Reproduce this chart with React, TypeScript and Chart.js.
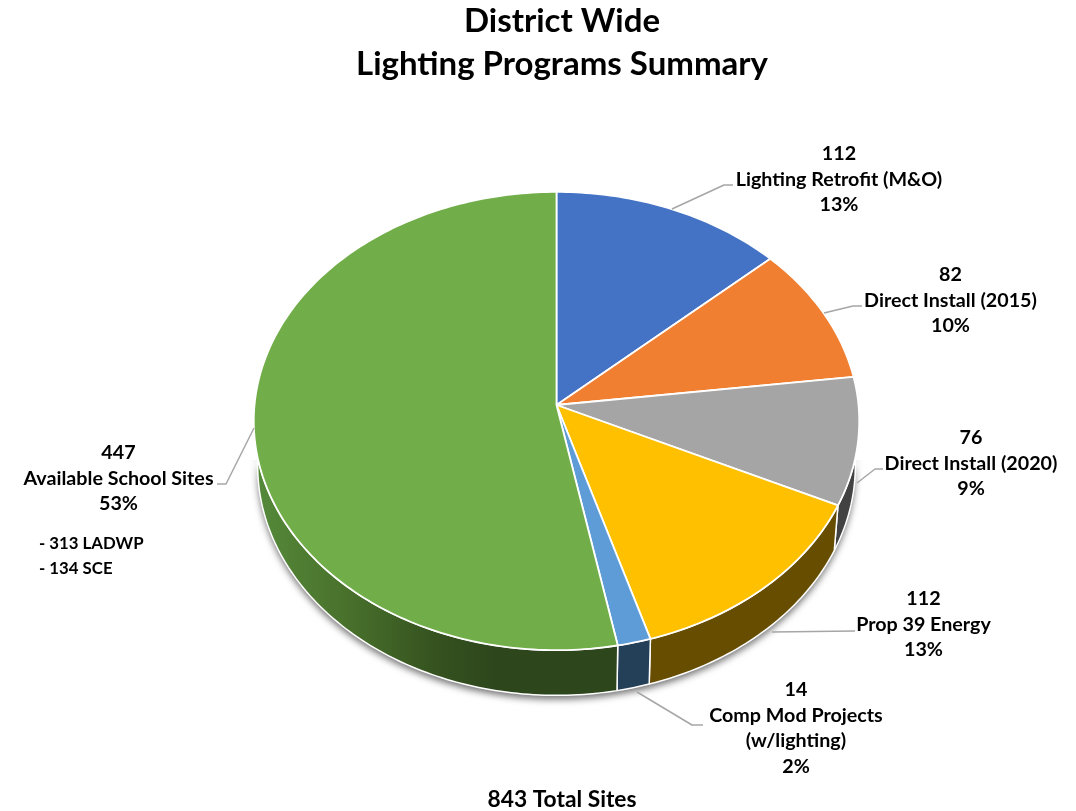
import React, { useEffect, useRef } from "react";
import { Chart, registerables } from "chart.js";

Chart.register(...registerables);

const titleLines = ["District Wide", "Lighting Programs Summary"];
const totalLabel = "843 Total Sites";
const categories = [
  "Lighting Retrofit (M&O)",
  "Direct Install (2015)",
  "Direct Install (2020)",
  "Prop 39 Energy",
  "Comp Mod Projects|(w/lighting)",
  "Available School Sites",
];
const siteCounts = [112, 82, 76, 112, 14, 447];
const percentLabels = ["13%", "10%", "9%", "13%", "2%", "53%"];
const availableBreakdown = ["- 313 LADWP", "- 134 SCE"];

const FONT = "Lato, 'Noto Sans', sans-serif";
const faceColors = ["#4472c4", "#f07f31", "#a5a5a5", "#ffc000", "#5e9cd8", "#71ae4a"];
const rimColors = ["#2a4578", "#8f4c1d", "#424242", "#664d00", "#243f58", ""];

function pieDrawer() {
  return {
    id: "perspectivePie",
    beforeDatasetDraw(chart: any) {
      const ctx: CanvasRenderingContext2D = chart.ctx;
      const arcs: any[] = chart.getDatasetMeta(0).data;
      const first = arcs[0];
      const cx = first.x - 5.5;
      const cy = first.y;
      const R = first.outerRadius;
      const B = R * 0.755;
      const p = 0.07;
      const scaleLow = 0.987;
      const D = 45;
      const top = (a: number) => {
        const u = Math.cos(a);
        const v = -Math.sin(a);
        const w = 1 + p * v;
        return [cx + (R * u) / w, cy - (B * v) / w];
      };
      const low = (a: number) => {
        const u = Math.cos(a);
        const v = -Math.sin(a);
        const w = 1 + p * v;
        return [cx + (R * scaleLow * u) / w, cy + D / w - (B * scaleLow * v) / w];
      };
      const deg = Math.PI / 180;
      const trace = (fn: (a: number) => number[], from: number, to: number, start: boolean) => {
        const n = Math.max(2, Math.ceil(Math.abs(to - from) / deg));
        for (let i = 0; i <= n; i++) {
          const q = fn(from + ((to - from) * i) / n);
          if (i === 0 && start) ctx.moveTo(q[0], q[1]);
          else ctx.lineTo(q[0], q[1]);
        }
      };
      const frontA = -5 * deg;
      const frontB = 185 * deg;

      // drop shadow below the rim, only where the rim is visible
      ctx.save();
      ctx.beginPath();
      ctx.rect(0, cy + 55, chart.width, chart.height);
      ctx.clip();
      ctx.shadowColor = "rgba(0,0,0,0.55)";
      ctx.shadowBlur = 7;
      ctx.shadowOffsetY = 4;
      ctx.fillStyle = "#ffffff";
      ctx.beginPath();
      trace(top, frontA, frontB, true);
      trace(low, frontB, frontA, false);
      ctx.closePath();
      ctx.fill();
      ctx.restore();

      // rim
      arcs.forEach((arc, i) => {
        const a0 = Math.max(arc.startAngle, frontA);
        const a1 = Math.min(arc.endAngle, frontB);
        if (a1 <= a0) return;
        let fill: any = rimColors[i];
        if (!fill) {
          const g = ctx.createLinearGradient(cx - R, 0, cx - 60, 0);
          g.addColorStop(0, "#558a3a");
          g.addColorStop(0.35, "#4a732d");
          g.addColorStop(0.75, "#35521f");
          g.addColorStop(1, "#2d461c");
          fill = g;
        }
        ctx.beginPath();
        trace(top, a0, a1, true);
        trace(low, a1, a0, false);
        ctx.closePath();
        ctx.fillStyle = fill;
        ctx.fill();
        ctx.strokeStyle = "#ffffff";
        ctx.lineWidth = 1.5;
        ctx.lineJoin = "round";
        ctx.stroke();
      });

      // top face
      arcs.forEach((arc, i) => {
        ctx.beginPath();
        ctx.moveTo(cx, cy);
        trace(top, arc.startAngle, arc.endAngle, false);
        ctx.closePath();
        ctx.fillStyle = faceColors[i];
        ctx.fill();
        ctx.strokeStyle = "#ffffff";
        ctx.lineWidth = 1.8;
        ctx.lineJoin = "round";
        ctx.stroke();
      });
      return false;
    },
    afterDraw(chart: any) {
      const ctx: CanvasRenderingContext2D = chart.ctx;
      const leaders = [
        [[672, 209], [724, 185], [733, 185]],
        [[824, 313], [853, 306], [862, 306]],
        [[857, 483], [875, 469], [883, 469]],
        [[772, 632], [855, 631]],
        [[637, 692], [692, 725], [703, 725]],
        [[254, 428], [226, 484], [217, 484]],
      ];
      const anchors = [
        [839, 153.5],
        [950.5, 274.5],
        [971, 437.5],
        [923.5, 598.5],
        [796, 689.5],
        [118.5, 452.5],
      ];
      ctx.save();
      ctx.strokeStyle = "#a6a6a6";
      ctx.lineWidth = 1.5;
      leaders.forEach((pts) => {
        ctx.beginPath();
        pts.forEach((q, i) => (i ? ctx.lineTo(q[0], q[1]) : ctx.moveTo(q[0], q[1])));
        ctx.stroke();
      });
      ctx.fillStyle = "#000000";
      ctx.textBaseline = "middle";
      ctx.textAlign = "center";
      ctx.font = `bold 19.7px ${FONT}`;
      categories.forEach((name, i) => {
        const lines = [String(siteCounts[i]), ...name.split("|"), percentLabels[i]];
        lines.forEach((t, k) => ctx.fillText(t, anchors[i][0], anchors[i][1] + k * 25.8));
      });
      ctx.textAlign = "left";
      ctx.font = `bold 16.8px ${FONT}`;
      availableBreakdown.forEach((t, k) => ctx.fillText(t, 39, 543.5 + k * 25));
      ctx.restore();
    },
  };
}

export default function App() {
  const ref = useRef<HTMLCanvasElement>(null);
  useEffect(() => {
    document.body.style.margin = "0";
    document.body.style.background = "#ffffff";
    const chart = new Chart(ref.current as HTMLCanvasElement, {
      type: "pie",
      data: {
        labels: categories.map((c) => c.replace("|", " ")),
        datasets: [{ data: siteCounts, backgroundColor: faceColors, borderWidth: 0 }],
      },
      options: {
        responsive: false,
        animation: false,
        layout: { padding: { left: 260, right: 212, top: 0, bottom: 0 } },
        plugins: {
          legend: { display: false },
          tooltip: { enabled: false },
          title: {
            display: true,
            text: titleLines,
            color: "#000000",
            font: { family: FONT, size: 33, weight: "bold", lineHeight: 43 / 33 },
            padding: { top: 0, bottom: 17 },
          },
          subtitle: {
            display: true,
            position: "bottom",
            text: totalLabel,
            color: "#000000",
            font: { family: FONT, size: 22.8, weight: "bold", lineHeight: 22 / 22.8 },
            padding: { top: 82, bottom: 0 },
          },
        },
      },
      plugins: [pieDrawer()],
    } as any);
    return () => chart.destroy();
  }, []);
  return <canvas ref={ref} width={1076} height={811} style={{ display: "block" }} />;
}
